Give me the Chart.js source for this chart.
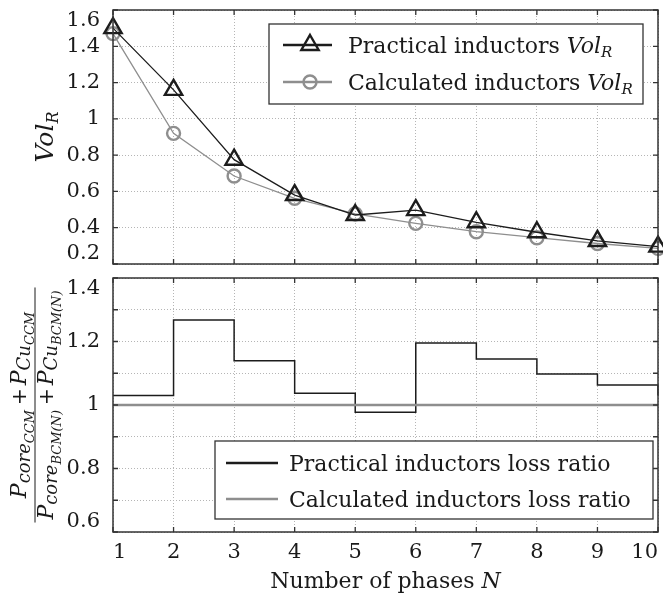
<!DOCTYPE html>
<html>
<head>
<meta charset="utf-8">
<script src="https://cdn.jsdelivr.net/npm/chart.js@4"></script>
<style>
  html, body { margin: 0; padding: 0; background: #fff; }
  #wrap { position: relative; width: 663px; height: 599px; }
  #volChart { position: absolute; left: 0; top: 0; }
  #lossChart { position: absolute; left: 0; top: 272px; }
</style>
</head>
<body>
<div id="wrap">
  <canvas id="volChart" width="663" height="272"></canvas>
  <canvas id="lossChart" width="663" height="327"></canvas>
</div>
<script>
// Data
var phases = [1, 2, 3, 4, 5, 6, 7, 8, 9, 10];
var practicalVol = [1.50, 1.16, 0.775, 0.58, 0.47, 0.497, 0.43, 0.375, 0.327, 0.296];
var calculatedVol = [1.47, 0.92, 0.685, 0.562, 0.476, 0.424, 0.378, 0.345, 0.313, 0.286];
var practicalLoss = [1.03, 1.268, 1.139, 1.037, 0.977, 1.195, 1.145, 1.098, 1.063, 1.03];
var calculatedLoss = [1, 1, 1, 1, 1, 1, 1, 1, 1, 1];

var volTicks = [0.2, 0.4, 0.6, 0.8, 1, 1.2, 1.4, 1.6];
var volTickLabels = ['0.2', '0.4', '0.6', '0.8', '1', '1.2', '1.4', '1.6'];
var lossTicks = [0.6, 0.8, 1, 1.2, 1.4];
var lossTickLabels = ['0.6', '0.8', '1', '1.2', '1.4'];

var volNames = ['Practical inductors', 'Calculated inductors'];
var lossNames = ['Practical inductors loss ratio', 'Calculated inductors loss ratio'];

var FONT = '"DejaVu Serif", "Liberation Serif", serif';
var TEXT = '#1a1a1a';
var FRAME = '#333333';
var GRID = '#b5b5b5';
var BLACK = '#1c1c1c';
var GRAY = '#8e8e8e';

// tick label lookup; edge labels are nudged inside like in the original
function tickLabel(ticks, labels, v) {
  for (var i = 0; i < ticks.length; i++) {
    if (Math.abs(ticks[i] - v) < 1e-6) {
      if (i === 0) return [labels[i], ''];
      if (i === ticks.length - 1) return ['', labels[i]];
      return labels[i];
    }
  }
  return '';
}

// keep the plot box fixed whatever the labels need
function fixWidth(w) {
  return function (s) {
    s.width = w;
    s.paddingTop = 0; s.paddingBottom = 0; s.paddingLeft = 0; s.paddingRight = 0;
  };
}
function fixHeight(h) {
  return function (s) {
    s.height = h;
    s.paddingTop = 0; s.paddingBottom = 0; s.paddingLeft = 0; s.paddingRight = 0;
  };
}

function setFont(ctx, r) {
  ctx.font = (r.i ? 'italic ' : '') + r.s + 'px ' + FONT;
}
function runsWidth(ctx, runs) {
  var w = 0;
  runs.forEach(function (r) { setFont(ctx, r); w += ctx.measureText(r.t).width + (r.gap || 0); });
  return w;
}
function drawRuns(ctx, runs, x, y) {
  runs.forEach(function (r) {
    setFont(ctx, r);
    ctx.fillText(r.t, x, y + (r.dy || 0));
    x += ctx.measureText(r.t).width + (r.gap || 0);
  });
  return x;
}

function drawMarker(ctx, type, x, y, color) {
  ctx.strokeStyle = color;
  ctx.lineWidth = 2.4;
  ctx.beginPath();
  if (type === 'triangle') {
    var r = 10;
    ctx.moveTo(x, y - r);
    ctx.lineTo(x + r * 0.866, y + r / 2);
    ctx.lineTo(x - r * 0.866, y + r / 2);
    ctx.closePath();
  } else {
    ctx.arc(x, y, 6.5, 0, Math.PI * 2);
  }
  ctx.stroke();
}

// box around the plot with inward ticks on every side
var framePlugin = {
  id: 'frame',
  afterDatasetsDraw: function (chart) {
    var ctx = chart.ctx, a = chart.chartArea;
    var xs = chart.scales.x, ys = chart.scales.y;
    ctx.save();
    ctx.strokeStyle = FRAME;
    ctx.lineWidth = 1.3;
    ctx.beginPath();
    xs.ticks.forEach(function (t, i) {
      var px = xs.getPixelForTick(i);
      ctx.moveTo(px, a.bottom); ctx.lineTo(px, a.bottom - 5);
      ctx.moveTo(px, a.top); ctx.lineTo(px, a.top + 5);
    });
    ys.ticks.forEach(function (t, i) {
      var py = ys.getPixelForTick(i);
      ctx.moveTo(a.left, py); ctx.lineTo(a.left + 5, py);
      ctx.moveTo(a.right, py); ctx.lineTo(a.right - 5, py);
    });
    ctx.stroke();
    ctx.lineWidth = 1.5;
    ctx.strokeRect(a.left, a.top, a.right - a.left, a.bottom - a.top);
    ctx.restore();
  }
};

// legend and y title of the volume panel
var volDecor = {
  id: 'volDecor',
  afterDraw: function (chart) {
    var ctx = chart.ctx, a = chart.chartArea;
    ctx.save();
    var bx = a.right - 389, by = a.top + 14;
    ctx.fillStyle = '#fff';
    ctx.fillRect(bx, by, 374, 80);
    ctx.strokeStyle = FRAME;
    ctx.lineWidth = 1.3;
    ctx.strokeRect(bx, by, 374, 80);
    var rows = [
      { name: volNames[0], color: BLACK, marker: 'triangle', cy: by + 21 },
      { name: volNames[1], color: GRAY, marker: 'circle', cy: by + 58 }
    ];
    rows.forEach(function (row) {
      ctx.strokeStyle = row.color;
      ctx.lineWidth = 2.4;
      ctx.beginPath();
      ctx.moveTo(bx + 14, row.cy);
      ctx.lineTo(bx + 63, row.cy);
      ctx.stroke();
      drawMarker(ctx, row.marker, bx + 41, row.cy, row.color);
      ctx.fillStyle = TEXT;
      ctx.textBaseline = 'alphabetic';
      drawRuns(ctx, [
        { t: row.name + ' ', s: 22 },
        { t: 'Vol', s: 22, i: true },
        { t: 'R', s: 15, i: true, dy: 4 }
      ], bx + 79, row.cy + 8);
    });
    // y title
    var title = [{ t: 'Vol', s: 25, i: true }, { t: 'R', s: 16, i: true, dy: 5 }];
    ctx.translate(53, (a.top + a.bottom) / 2);
    ctx.rotate(-Math.PI / 2);
    drawRuns(ctx, title, -runsWidth(ctx, title) / 2, 0);
    ctx.restore();
  }
};

// legend, fraction title and x title of the loss panel
var lossDecor = {
  id: 'lossDecor',
  afterDraw: function (chart) {
    var ctx = chart.ctx, a = chart.chartArea;
    ctx.save();
    var bx = a.right - 443, by = a.bottom - 91;
    ctx.fillStyle = '#fff';
    ctx.fillRect(bx, by, 438, 78);
    ctx.strokeStyle = FRAME;
    ctx.lineWidth = 1.3;
    ctx.strokeRect(bx, by, 438, 78);
    var rows = [
      { name: lossNames[0], color: BLACK, cy: by + 22 },
      { name: lossNames[1], color: GRAY, cy: by + 58 }
    ];
    rows.forEach(function (row) {
      ctx.strokeStyle = row.color;
      ctx.lineWidth = 2.6;
      ctx.beginPath();
      ctx.moveTo(bx + 11, row.cy);
      ctx.lineTo(bx + 63, row.cy);
      ctx.stroke();
      ctx.fillStyle = TEXT;
      drawRuns(ctx, [{ t: row.name, s: 22 }], bx + 74, row.cy + 8);
    });

    // x title
    var xt = [{ t: 'Number of phases ', s: 22 }, { t: 'N', s: 22, i: true }];
    drawRuns(ctx, xt, (a.left + a.right) / 2 - runsWidth(ctx, xt) / 2, a.bottom + 56);

    // y title as a fraction
    var num = [
      { t: 'P', s: 22, i: true }, { t: 'core', s: 18, i: true, dy: 4 }, { t: 'CCM', s: 13, i: true, dy: 8, gap: 5 },
      { t: '+', s: 20, gap: 3 },
      { t: 'P', s: 22, i: true }, { t: 'Cu', s: 18, i: true, dy: 4 }, { t: 'CCM', s: 13, i: true, dy: 8 }
    ];
    var den = [
      { t: 'P', s: 22, i: true }, { t: 'core', s: 18, i: true, dy: 4 }, { t: 'BCM(N)', s: 13, i: true, dy: 8, gap: 5 },
      { t: '+', s: 20, gap: 3 },
      { t: 'P', s: 22, i: true }, { t: 'Cu', s: 18, i: true, dy: 4 }, { t: 'BCM(N)', s: 13, i: true, dy: 8 }
    ];
    ctx.translate(35, (a.top + a.bottom) / 2);
    ctx.rotate(-Math.PI / 2);
    var nw = runsWidth(ctx, num), dw = runsWidth(ctx, den);
    drawRuns(ctx, num, -nw / 2, -9);
    drawRuns(ctx, den, -dw / 2, 18);
    var bw = Math.max(nw, dw) + 6;
    ctx.strokeStyle = TEXT;
    ctx.lineWidth = 1;
    ctx.beginPath();
    ctx.moveTo(-bw / 2, 0);
    ctx.lineTo(bw / 2, 0);
    ctx.stroke();
    ctx.restore();
  }
};

var gridOpts = { color: GRID, lineWidth: 1, drawTicks: false };
var borderOpts = { display: false, dash: [1, 2] };
var tickFont = { family: FONT, size: 21, lineHeight: 1.0 };

// Top panel: relative volume
var volChart = new Chart(document.getElementById('volChart').getContext('2d'), {
  type: 'line',
  data: {
    labels: phases.map(String),
    datasets: [{
      label: volNames[0],
      data: practicalVol,
      borderColor: BLACK,
      borderWidth: 1.3,
      pointStyle: 'triangle',
      pointRadius: 10,
      pointBorderWidth: 2.4,
      pointBorderColor: BLACK,
      pointBackgroundColor: 'rgba(0,0,0,0)',
      tension: 0,
      clip: false
    }, {
      label: volNames[1],
      data: calculatedVol,
      borderColor: GRAY,
      borderWidth: 1.3,
      pointStyle: 'circle',
      pointRadius: 6.5,
      pointBorderWidth: 2.4,
      pointBorderColor: GRAY,
      pointBackgroundColor: 'rgba(0,0,0,0)',
      tension: 0,
      clip: false
    }]
  },
  options: {
    responsive: false,
    animation: false,
    events: [],
    layout: { autoPadding: false, padding: { left: 0, right: 5, top: 10, bottom: 8 } },
    plugins: { legend: { display: false }, tooltip: { enabled: false } },
    scales: {
      x: {
        type: 'category',
        offset: false,
        grid: gridOpts,
        border: borderOpts,
        ticks: { display: false },
        afterFit: fixHeight(0)
      },
      y: {
        min: 0.2,
        max: 1.6,
        grid: gridOpts,
        border: borderOpts,
        ticks: {
          stepSize: 0.2,
          autoSkip: false,
          padding: 13,
          color: TEXT,
          font: tickFont,
          callback: function (v) { return tickLabel(volTicks, volTickLabels, v); }
        },
        afterFit: fixWidth(113)
      }
    }
  },
  plugins: [framePlugin, volDecor]
});

// Bottom panel: loss ratio as stairs
var lossChart = new Chart(document.getElementById('lossChart').getContext('2d'), {
  type: 'line',
  data: {
    labels: phases.map(String),
    datasets: [{
      label: lossNames[0],
      data: practicalLoss,
      borderColor: BLACK,
      borderWidth: 1.5,
      stepped: true,
      pointRadius: 0,
      order: 1
    }, {
      label: lossNames[1],
      data: calculatedLoss,
      borderColor: GRAY,
      borderWidth: 2.6,
      pointRadius: 0,
      order: 0
    }]
  },
  options: {
    responsive: false,
    animation: false,
    events: [],
    layout: { autoPadding: false, padding: { left: 0, right: 5, top: 6, bottom: 0 } },
    plugins: { legend: { display: false }, tooltip: { enabled: false } },
    scales: {
      x: {
        type: 'category',
        offset: false,
        grid: gridOpts,
        border: borderOpts,
        ticks: {
          align: 'inner',
          autoSkip: false,
          maxRotation: 0,
          padding: 8,
          color: TEXT,
          font: { family: FONT, size: 21 }
        },
        afterFit: fixHeight(67)
      },
      y: {
        min: 0.6,
        max: 1.4,
        grid: gridOpts,
        border: borderOpts,
        ticks: {
          stepSize: 0.1,
          autoSkip: false,
          padding: 13,
          color: TEXT,
          font: tickFont,
          callback: function (v) { return tickLabel(lossTicks, lossTickLabels, v); }
        },
        afterFit: fixWidth(113)
      }
    }
  },
  plugins: [framePlugin, lossDecor]
});
</script>
</body>
</html>
